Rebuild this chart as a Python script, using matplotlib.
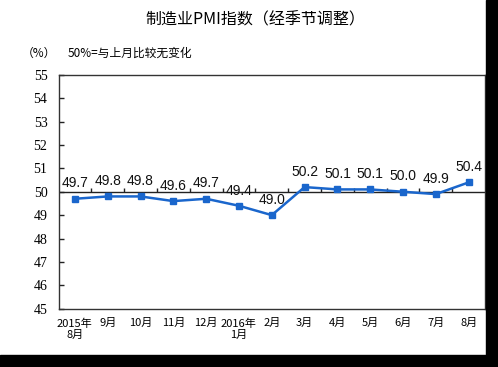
import numpy as np
import matplotlib
matplotlib.use('Agg')
import matplotlib.pyplot as plt
from matplotlib.patches import Rectangle

plt.rcParams['font.family'] = ['Noto Sans CJK SC', 'DejaVu Sans']

# data
months = ['2015年\n8月', '9月', '10月', '11月', '12月', '2016年\n1月', '2月',
          '3月', '4月', '5月', '6月', '7月', '8月']
pmi = [49.7, 49.8, 49.8, 49.6, 49.7, 49.4, 49.0, 50.2, 50.1, 50.1, 50.0, 49.9, 50.4]
yticks = [45, 46, 47, 48, 49, 50, 51, 52, 53, 54, 55]

line_color = '#1a66cc'

fig = plt.figure(figsize=(4.98, 3.67), dpi=100)
fig.patch.set_facecolor('white')
ax = fig.add_axes([0.1175, 0.159, 0.8565, 0.637])

x = np.arange(len(pmi))
ax.plot(x, pmi, color=line_color, lw=1.8, marker='s', ms=4.2, zorder=3)

#data labels above points
for xi, v in zip(x, pmi):
    ax.annotate('%.1f' % v, (xi, v), xytext=(0, 11), textcoords='offset points',
                ha='center', va='center', fontsize=10, family='Liberation Sans',
                color='#111111')

# 50 line with category ticks
ax.axhline(50, color='#222222', lw=1.0, zorder=2)
ax.vlines(np.arange(0.5, len(pmi) - 0.5), 50, 50.18, color='#222222', lw=1.0)

ax.set_xlim(-0.5, len(pmi) - 0.5)
ax.set_ylim(45, 55)
ax.set_yticks(yticks)
ax.set_yticklabels([str(t) for t in yticks])
ax.tick_params(axis='y', direction='in', length=3.5, width=1.0, pad=8, color='#222222')
ax.set_xticks(x)
ax.set_xticklabels(months, linespacing=1.1)
ax.tick_params(axis='x', length=0, pad=7)
for lbl in ax.get_yticklabels():
    lbl.set_fontfamily('Liberation Serif')
    lbl.set_fontsize(10)
for lbl in ax.get_xticklabels():
    lbl.set_fontsize(8)
for s in ax.spines.values():
    s.set_color('#333333')
    s.set_linewidth(1.0)

fig.text(0.512, 0.945, '制造业PMI指数（经季节调整）', ha='center', va='center',
         fontsize=11.5)
fig.text(0.078, 0.855, '（%）', ha='center', va='center', fontsize=8.5)
fig.text(0.136, 0.855, '50%=与上月比较无变化', ha='left', va='center', fontsize=8.5)

# black border of the picture
fig.patches.append(Rectangle((486 / 498, 0), 1, 1, transform=fig.transFigure,
                             color='black', zorder=10))
fig.patches.append(Rectangle((0, 0), 1, 12 / 367, transform=fig.transFigure,
                             color='black', zorder=10))

fig.savefig('out.png', dpi=100)
